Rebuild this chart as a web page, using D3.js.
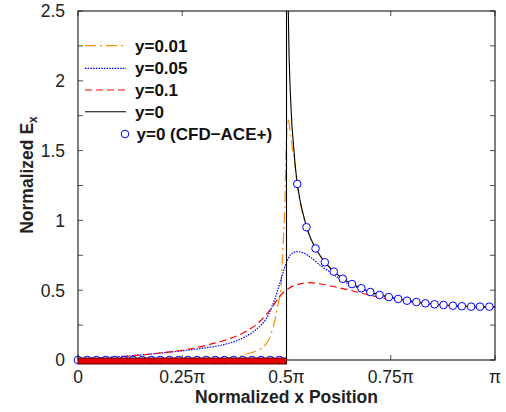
<!DOCTYPE html>
<html><head><meta charset="utf-8">
<script src="https://cdn.jsdelivr.net/npm/d3@7"></script>
<style>body{margin:0;background:#fff}svg{display:block}text{font-family:"Liberation Sans",Arial,sans-serif}</style>
</head><body><svg id="c" width="506" height="412"></svg>
<script>
// x in units of pi
const xTicks = [0, 0.25, 0.5, 0.75, 1];
const xTickLabels = ["0", "0.25\u03c0", "0.5\u03c0", "0.75\u03c0", "\u03c0"];
const yTicks = [0, 0.5, 1, 1.5, 2, 2.5];
const yTickLabels = ["0", "0.5", "1", "1.5", "2", "2.5"];
const seriesNames = ["y=0.01", "y=0.05", "y=0.1", "y=0", "y=0 (CFD\u2212ACE+)"];

// y = 0 analytic
const blackX = [0, 0.5, 0.5, 0.503, 0.5043, 0.506, 0.508, 0.510, 0.513, 0.5179, 0.521, 0.5258, 0.532, 0.537, 0.548, 0.558, 0.5697, 0.58, 0.5919, 0.6134, 0.6348, 0.657, 0.6795, 0.701, 0.7232, 0.7453, 0.7678, 0.789, 0.8115, 0.833, 0.855, 0.8766, 0.899, 0.9205, 0.9427, 0.964, 0.9864, 1.0];
const blackY = [0, 0, 3.5, 2.9, 2.5, 2.2, 2.0, 1.86, 1.68, 1.50, 1.39, 1.26, 1.15, 1.08, 0.951, 0.87, 0.799, 0.75, 0.700, 0.633, 0.582, 0.544, 0.514, 0.487, 0.466, 0.451, 0.437, 0.425, 0.415, 0.406, 0.399, 0.394, 0.389, 0.385, 0.382, 0.381, 0.380, 0.380];

// y = 0.01
const orangeX = [0, 0.2, 0.3, 0.35, 0.38, 0.41, 0.44, 0.457, 0.466, 0.474, 0.480, 0.4862, 0.49, 0.4924, 0.494, 0.4964, 0.498, 0.5005, 0.5019, 0.506, 0.510, 0.514, 0.5179, 0.5258, 0.537, 0.548, 0.5697, 0.5919, 0.6134, 0.6348, 0.657, 0.7, 0.75, 0.8, 0.9, 1.0];
const orangeY = [0, 0.002, 0.005, 0.012, 0.02, 0.048, 0.084, 0.143, 0.215, 0.31, 0.406, 0.50, 0.716, 0.86, 0.955, 1.146, 1.385, 1.626, 1.726, 1.70, 1.61, 1.52, 1.45, 1.25, 1.07, 0.95, 0.799, 0.700, 0.633, 0.582, 0.544, 0.487, 0.449, 0.42, 0.386, 0.38];

// y = 0.05
const blueX = [0, 0.1, 0.2, 0.3, 0.35, 0.4, 0.43, 0.45, 0.465, 0.48, 0.49, 0.5, 0.51, 0.525, 0.54, 0.56, 0.585, 0.61, 0.63, 0.66, 0.70, 0.75, 0.8, 0.85, 0.9, 0.95, 1.0];
const blueY = [0.01, 0.025, 0.05, 0.085, 0.11, 0.165, 0.225, 0.29, 0.38, 0.51, 0.61, 0.70, 0.755, 0.776, 0.768, 0.73, 0.668, 0.62, 0.575, 0.53, 0.485, 0.447, 0.42, 0.40, 0.389, 0.382, 0.38];

// y = 0.1
const redX = [0, 0.1, 0.18, 0.26, 0.3, 0.35, 0.4, 0.43, 0.45, 0.466, 0.482, 0.506, 0.53, 0.555, 0.578, 0.617, 0.657, 0.697, 0.737, 0.776, 0.816, 0.85, 0.9, 0.95, 1.0];
const redY = [0.003, 0.02, 0.045, 0.075, 0.1, 0.14, 0.2, 0.26, 0.32, 0.38, 0.45, 0.514, 0.544, 0.554, 0.546, 0.523, 0.496, 0.466, 0.44, 0.424, 0.41, 0.40, 0.39, 0.383, 0.38];

// CFD-ACE+ markers
const cfdX = [0, 0.022, 0.0439, 0.0659, 0.0878, 0.1098, 0.1317, 0.1537, 0.1756, 0.1976, 0.2195, 0.2415, 0.2634, 0.2854, 0.3073, 0.3293, 0.3512, 0.3732, 0.3951, 0.4171, 0.439, 0.461, 0.4829,
  0.5258, 0.548, 0.5697, 0.5919, 0.6134, 0.6348, 0.657, 0.6795, 0.701, 0.7232, 0.7453, 0.7678, 0.789, 0.8115, 0.833, 0.855, 0.8766, 0.899, 0.9205, 0.9427, 0.964, 0.9864];
const cfdY = [0,0,0,0,0,0,0,0,0,0,0,0,0,0,0,0,0,0,0,0,0,0,0,
  1.261, 0.951, 0.799, 0.700, 0.633, 0.582, 0.544, 0.514, 0.487, 0.466, 0.451, 0.437, 0.425, 0.415, 0.406, 0.399, 0.394, 0.389, 0.385, 0.382, 0.382, 0.382];

// conductor strip extent
const stripX = [0, 0.5];

const svg = d3.select("#c");
const L = 78, R = 495, T = 11, B = 360;
const x = d3.scaleLinear().domain([0, 1]).range([L, R]);
const y = d3.scaleLinear().domain([0, 2.5]).range([B, T]);

svg.append("defs").append("clipPath").attr("id", "clip")
  .append("rect").attr("x", L).attr("y", T).attr("width", R - L).attr("height", B - T);

// ticks (inward), minor every 0.25
const tickG = svg.append("g").attr("stroke", "#555").attr("stroke-width", 1);
const yMinor = d3.range(0, 2.51, 0.25);
yMinor.forEach(v => {
  tickG.append("line").attr("x1", L).attr("x2", L + 5).attr("y1", y(v)).attr("y2", y(v));
  tickG.append("line").attr("x1", R - 5).attr("x2", R).attr("y1", y(v)).attr("y2", y(v));
});
xTicks.forEach(v => {
  tickG.append("line").attr("x1", x(v)).attr("x2", x(v)).attr("y1", B).attr("y2", B - 5);
  tickG.append("line").attr("x1", x(v)).attr("x2", x(v)).attr("y1", T).attr("y2", T + 5);
});

// tick labels
svg.append("g").selectAll("text").data(xTicks).join("text")
  .attr("x", d => x(d)).attr("y", 382.5).attr("text-anchor", "middle")
  .attr("font-size", 17.5).attr("fill", "#222").text((d, i) => xTickLabels[i]);
svg.append("g").selectAll("text").data(yTicks).join("text")
  .attr("x", 65).attr("y", d => y(d)).attr("dy", "0.36em").attr("text-anchor", "end")
  .attr("font-size", 17.5).attr("fill", "#222").text((d, i) => yTickLabels[i]);

// axis titles
svg.append("text").attr("x", (L + R) / 2).attr("y", 403).attr("text-anchor", "middle")
  .attr("font-size", 17.5).attr("font-weight", "bold").attr("fill", "#222").text("Normalized x Position");
const yt = svg.append("text").attr("transform", "translate(33,175) rotate(-90)").attr("text-anchor", "middle")
  .attr("font-size", 17.5).attr("font-weight", "bold").attr("fill", "#222");
yt.append("tspan").text("Normalized E");
yt.append("tspan").attr("font-size", 12).attr("dy", 4).text("x");

// curves
const plot = svg.append("g").attr("clip-path", "url(#clip)");
const zip = (xs, ys) => xs.map((v, i) => [v, ys[i]]);
const lineSmooth = d3.line().x(d => x(d[0])).y(d => y(d[1])).curve(d3.curveMonotoneX);
const lineLin = d3.line().x(d => x(d[0])).y(d => y(d[1]));

const styles = [
  {color: "#ff8c00", dash: "11,4,2,4", w: 1.2},
  {color: "#0000ff", dash: "1.5,1.2", w: 1.2},
  {color: "#ff0000", dash: "7,4", w: 1.2},
  {color: "#000000", dash: null, w: 1.1}
];
plot.append("path").attr("d", lineSmooth(zip(orangeX, orangeY))).attr("fill", "none")
  .attr("stroke", styles[0].color).attr("stroke-width", styles[0].w).attr("stroke-dasharray", styles[0].dash);
plot.append("path").attr("d", lineSmooth(zip(blueX, blueY))).attr("fill", "none")
  .attr("stroke", styles[1].color).attr("stroke-width", styles[1].w).attr("stroke-dasharray", styles[1].dash);
plot.append("path").attr("d", lineSmooth(zip(redX, redY))).attr("fill", "none")
  .attr("stroke", styles[2].color).attr("stroke-width", styles[2].w).attr("stroke-dasharray", styles[2].dash);
plot.append("path").attr("d", lineLin(zip(blackX, blackY))).attr("fill", "none")
  .attr("stroke", styles[3].color).attr("stroke-width", styles[3].w);

// markers
svg.append("g").selectAll("circle").data(zip(cfdX, cfdY)).join("circle")
  .attr("cx", d => x(d[0])).attr("cy", d => y(d[1])).attr("r", 3.8)
  .attr("fill", "#fff").attr("stroke", "#0000ff").attr("stroke-width", 1);

// frame
svg.append("rect").attr("x", L).attr("y", T).attr("width", R - L).attr("height", B - T)
  .attr("fill", "none").attr("stroke", "#000").attr("stroke-width", 1);

// conductor strip
svg.append("rect").attr("x", x(stripX[0])).attr("y", y(0) - 2).attr("width", x(stripX[1]) - x(stripX[0])).attr("height", 6)
  .attr("fill", "#e60000").attr("stroke", "#500").attr("stroke-width", 1);

// legend
const legY = [45.7, 68.3, 90, 111.7, 134];
const lg = svg.append("g");
styles.forEach((s, i) => {
  lg.append("line").attr("x1", 85).attr("x2", 126).attr("y1", legY[i]).attr("y2", legY[i])
    .attr("stroke", s.color).attr("stroke-width", s.w).attr("stroke-dasharray", s.dash);
});
lg.append("circle").attr("cx", 125).attr("cy", legY[4]).attr("r", 3.8).attr("fill", "#fff").attr("stroke", "#0000ff");
seriesNames.forEach((n, i) => {
  lg.append("text").attr("x", i === 4 ? 136.5 : 135).attr("y", legY[i]).attr("dy", "0.36em")
    .attr("font-size", 17).attr("font-weight", "bold").attr("fill", "#111").text(n);
});
</script></body></html>
